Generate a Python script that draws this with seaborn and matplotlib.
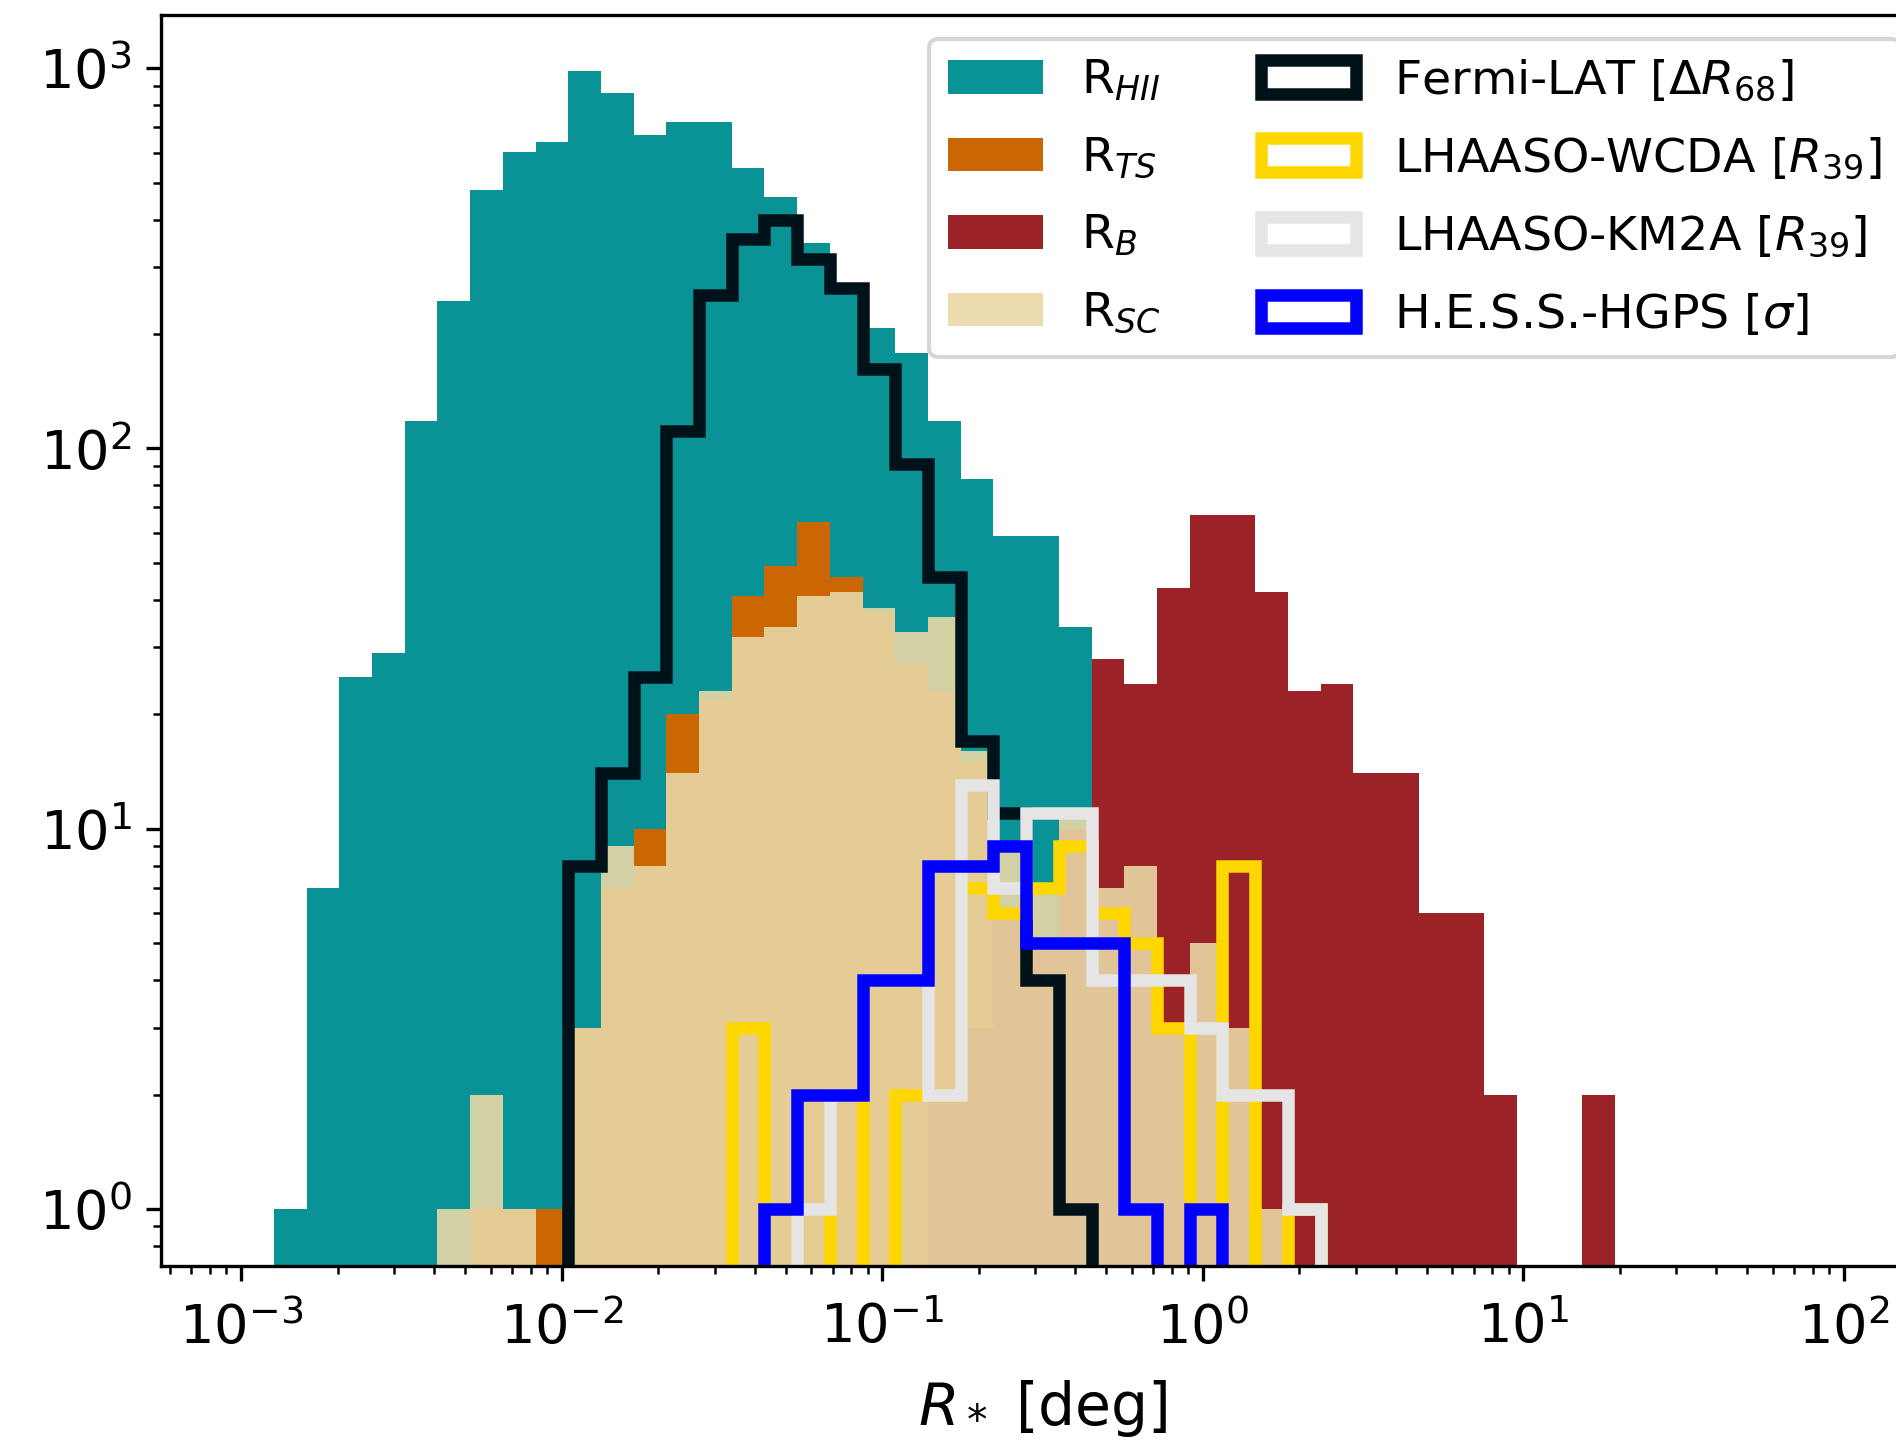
import numpy as np
import pandas as pd
import matplotlib
matplotlib.use("Agg")
import matplotlib.pyplot as plt
from matplotlib.patches import Patch
import seaborn as sns

# 49 log-spaced bins between 1e-3 and 1e2 deg
edges = np.logspace(-3, 2, 50)
centers = np.sqrt(edges[:-1] * edges[1:])

# counts per bin
r_hii = ([0, 1, 7, 25, 29, 118, 244, 478, 602, 638]
         + [986, 859, 667, 721, 721, 546, 458, 346, 268, 208]
         + [178, 118, 83, 59, 59, 34, 0, 0, 0, 0]
         + [0] * 19)
r_ts = ([0, 0, 0, 0, 0, 0, 0, 1, 1, 1]
        + [3, 7, 10, 20, 22, 41, 49, 64, 46, 37]
        + [27, 23, 15, 6, 5, 6, 0, 0, 0, 0]
        + [0] * 19)
r_b = ([0] * 20
       + [0, 2, 3, 6, 5, 10, 28, 24, 43, 67]
       + [67, 42, 23, 24, 14, 14, 6, 6, 2, 0]
       + [0, 2, 0, 0, 0, 0, 0, 0, 0])
r_sc = ([0, 0, 0, 0, 0, 0, 1, 2, 1, 0]
        + [3, 9, 8, 14, 23, 32, 34, 41, 42, 38]
        + [33, 36, 16, 9, 7, 11, 7, 8, 3, 5]
        + [3, 1] + [0] * 17)

fermi = ([0] * 10
         + [8, 14, 25, 111, 253, 355, 398, 315, 264, 162]
         + [91, 46, 17, 11, 4, 1, 0, 0, 0, 0]
         + [0] * 19)
wcda = ([0] * 10
        + [0, 0, 0, 0, 0, 3, 1, 0, 2, 0]
        + [2, 2, 7, 6, 7, 9, 6, 5, 3, 1]
        + [8, 0, 1] + [0] * 16)
km2a = ([0] * 10
        + [0, 0, 0, 0, 0, 0, 0, 1, 2, 4]
        + [4, 2, 13, 7, 11, 11, 4, 4, 4, 3]
        + [2, 2, 1] + [0] * 16)
hgps = ([0] * 10
        + [0, 0, 0, 0, 0, 0, 1, 2, 2, 4]
        + [4, 8, 8, 9, 5, 5, 5, 1, 0, 1]
        + [0] * 19)

fill_series = [
    (r_hii, "#0a9396", 1.0, r"R$_{HII}$"),
    (r_ts, "#ca6702", 1.0, r"R$_{TS}$"),
    (r_b, "#9b2226", 1.0, r"R$_{B}$"),
    (r_sc, "#e9d8a6", 0.9, r"R$_{SC}$"),
]
line_series = [
    (fermi, "#001219", r"Fermi-LAT [$\Delta R_{68}$]"),
    (wcda, "gold", r"LHAASO-WCDA [$R_{39}$]"),
    (km2a, "#e5e5e5", r"LHAASO-KM2A [$R_{39}$]"),
    (hgps, "blue", r"H.E.S.S.-HGPS [$\sigma$]"),
]

fig = plt.figure(figsize=(1896 / 300, 1444 / 300), dpi=300)
ax = fig.add_axes([161 / 1896, 178 / 1444, 1763 / 1896, 1251 / 1444])

bin_list = list(edges)
for counts, col, a, lab in fill_series:
    df = pd.DataFrame({"r": centers, "n": counts})
    sns.histplot(data=df, x="r", weights="n", bins=bin_list, element="step",
                 fill=True, color=col, alpha=a, linewidth=0,
                 edgecolor="none", ax=ax)

for counts, col, lab in line_series:
    df = pd.DataFrame({"r": centers, "n": counts})
    sns.histplot(data=df, x="r", weights="n", bins=bin_list, element="step",
                 fill=False, color=col, linewidth=3, ax=ax,
                 solid_joinstyle="miter")

ax.set_xscale("log")
ax.set_yscale("log")
ax.set_xlim(10 ** -3.25, 10 ** 2.25)
ax.set_ylim(0.708, 1380)
ax.set_ylabel("")
ax.set_xlabel(r"$R_*$ [deg]", fontsize=14, labelpad=5.5)
ax.tick_params(labelsize=13)
ax.tick_params(axis="x", pad=5)

handles = [Patch(facecolor=c, alpha=a, label=l) for _, c, a, l in fill_series]
handles += [Patch(facecolor="none", edgecolor=c, linewidth=3, label=l)
            for _, c, l in line_series]
ax.legend(handles=handles, ncol=2, loc="upper right", fontsize=11.4,
          labelspacing=0.68, columnspacing=2.1)

fig.savefig("out.png", dpi=300)
